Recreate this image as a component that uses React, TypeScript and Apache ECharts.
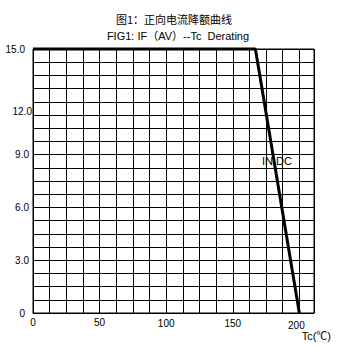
import React, { useEffect, useRef } from 'react';
import * as echarts from 'echarts';

const curveTc = [0, 167, 200];
const curveIf = [15, 15, 0];
const titleCn = '图1：正向电流降额曲线';
const titleEn = 'FIG1: IF（AV）--Tc  Derating';
const curveLabel = 'IN DC';
const xName = 'Tc(℃)';
const xLabelStep = 50;
const yLabelStep = 3;

const LATIN = '"Liberation Sans", Arial, "Noto Sans CJK SC", sans-serif';
const CJK = '"Noto Sans CJK SC", "Liberation Sans", sans-serif';

const isMult = (v: number, step: number) => Math.abs(v / step - Math.round(v / step)) < 1e-6;

export default function App() {
  const ref = useRef<HTMLDivElement>(null);
  useEffect(() => {
    const chart = echarts.init(ref.current!, null, { renderer: 'svg' });
    chart.setOption({
      animation: false,
      backgroundColor: '#fff',
      grid: {
        left: 33,
        top: 49,
        right: 23,
        bottom: 34,
        show: true,
        borderColor: '#000',
        borderWidth: 1,
      },
      xAxis: {
        type: 'value',
        min: 0,
        max: 211,
        interval: 12.5,
        name: xName,
        nameLocation: 'end',
        nameGap: 17,
        nameTextStyle: {
          fontFamily: LATIN,
          fontSize: 11,
          color: '#000',
          align: 'right',
          verticalAlign: 'top',
          padding: [18, 0, 0, 0],
        },
        axisLine: { show: true, lineStyle: { color: '#000', width: 1 } },
        axisTick: { show: false },
        splitLine: { show: true, lineStyle: { color: '#000', width: 1 } },
        axisLabel: {
          margin: 4,
          fontFamily: LATIN,
          fontSize: 10,
          color: '#000',
          showMaxLabel: false,
          formatter: (v: number) => {
            if (!isMult(v, xLabelStep) || v > 200) return '';
            const key = v >= 200 ? 'c' : v >= 100 ? 'b' : 'a';
            return `{${key}|${Math.round(v)}}`;
          },
          rich: {
            a: { fontFamily: LATIN, fontSize: 10, color: '#000' },
            b: { fontFamily: LATIN, fontSize: 10, color: '#000', padding: [2, 0, 0, 0] },
            c: { fontFamily: LATIN, fontSize: 10, color: '#000', padding: [4, 6, 0, 0] },
          },
        },
      },
      yAxis: {
        type: 'value',
        min: 0,
        max: 15,
        interval: 0.75,
        axisLine: { show: true, lineStyle: { color: '#000', width: 1 } },
        axisTick: { show: false },
        splitLine: { show: true, lineStyle: { color: '#000', width: 1 } },
        axisLabel: {
          margin: 1,
          fontFamily: LATIN,
          fontSize: 10,
          color: '#000',
          formatter: (v: number) => {
            if (!isMult(v, yLabelStep)) return '';
            const r = Math.round(v);
            const s = r === 0 ? '0' : r.toFixed(1);
            const key = r === 12 ? 'c' : r === 0 || r === 15 ? 'a' : 'b';
            return `{${key}|${s}}`;
          },
          rich: {
            a: { fontFamily: LATIN, fontSize: 10, color: '#000', padding: [0, 7, 0, 0] },
            b: { fontFamily: LATIN, fontSize: 10, color: '#000', padding: [0, 3, 0, 0] },
            c: { fontFamily: LATIN, fontSize: 10, color: '#000', padding: [20, 0, 0, 0] },
          },
        },
      },
      series: [
        {
          type: 'line',
          data: curveTc.map((t, i) => [t, curveIf[i]]),
          symbol: 'none',
          clip: false,
          lineStyle: { color: '#000', width: 3 },
          z: 5,
        },
      ],
      graphic: [
        {
          type: 'text',
          x: 174,
          y: 19,
          style: {
            text: titleCn,
            fontFamily: CJK,
            fontSize: 11,
            fill: '#000',
            align: 'center',
            verticalAlign: 'middle',
          },
        },
        {
          type: 'text',
          x: 178,
          y: 36,
          style: {
            text: titleEn,
            fontFamily: LATIN,
            fontSize: 11,
            fill: '#000',
            align: 'center',
            verticalAlign: 'middle',
          },
        },
        {
          type: 'text',
          x: 262,
          y: 161,
          z: 10,
          style: {
            text: curveLabel,
            fontFamily: LATIN,
            fontSize: 11,
            fill: '#000',
            align: 'left',
            verticalAlign: 'middle',
          },
        },
      ],
    });
    return () => chart.dispose();
  }, []);
  return (
    <div
      ref={ref}
      style={{ position: 'fixed', left: 0, top: 0, width: 337, height: 347, background: '#fff' }}
    />
  );
}
